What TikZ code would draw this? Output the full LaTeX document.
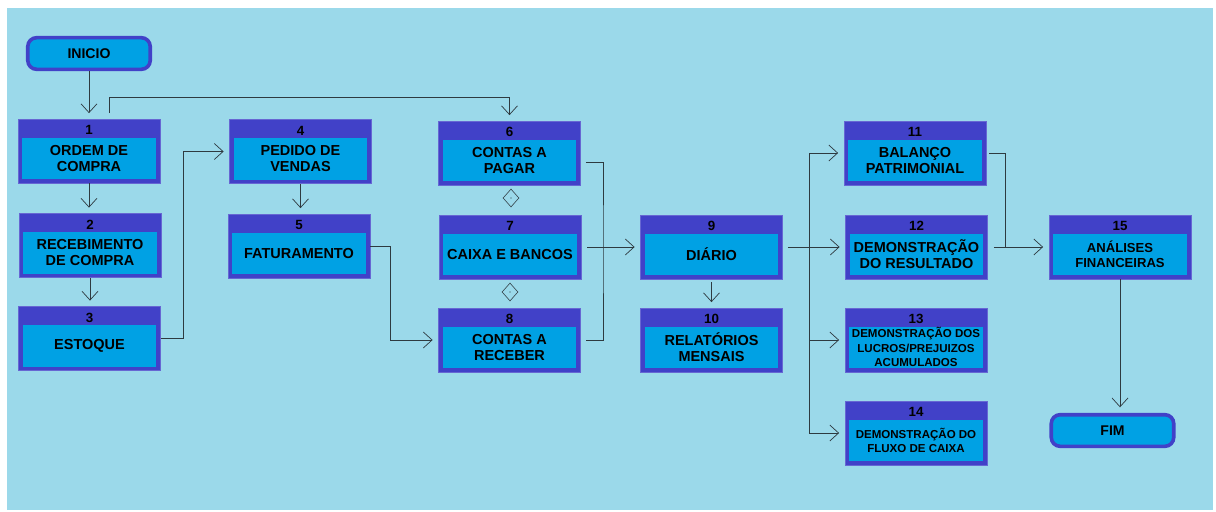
\documentclass[tikz,border=0pt]{standalone}
\usepackage{fontspec}
\setmainfont{Liberation Sans}
\usetikzlibrary{positioning,arrows.meta,shapes.geometric,calc}
\definecolor{fundo}{HTML}{9BD9EA}
\definecolor{azulesc}{HTML}{4141C8}
\definecolor{azulcla}{HTML}{00A1E4}
\definecolor{linha}{HTML}{2E3A40}

\begin{document}
\begin{tikzpicture}[x=0.025cm, y=-0.025cm,
    bloco/.style={fill=azulesc, draw=azulesc!80!white, line width=0.4pt,
                  minimum width=3.55cm, minimum height=1.6cm, inner sep=0pt,
                  label={[font=\fontsize{9.5}{10}\selectfont\bfseries,
                          anchor=north, inner sep=0pt, yshift=-0.16cm]north:#1}},
    texto/.style={fill=azulcla, minimum width=3.33cm, minimum height=1.03cm,
                  inner sep=0pt, align=center, anchor=south, yshift=0.1cm,
                  font=\fontsize{10.3}{11.5}\selectfont\bfseries},
    menor/.style={font=\fontsize{8.2}{10.3}\selectfont\bfseries},
    terminal/.style={draw=azulesc, fill=azulcla, line width=0.09cm,
                     rounded corners=0.22cm, minimum width=3.06cm,
                     minimum height=0.79cm,
                     font=\fontsize{10}{12}\selectfont\bfseries},
    seta/.style={draw=linha, line width=0.6pt,
                 -{Straight Barb[length=2.2mm,width=4mm,line width=0.5pt]},
                 shorten >=0.14cm},
    liga/.style={draw=linha, line width=0.6pt},
    losango/.style={diamond, draw=linha, line width=0.4pt, inner sep=0pt,
                    minimum width=0.4cm, minimum height=0.45cm},
]
\useasboundingbox (0,0) rectangle (1216,512);
\fill[fundo] (7,8) rectangle (1213,510);

% inicio e fim
\node[terminal] (inicio) at (89,53.5) {INICIO};
\node[terminal] (fim) at (1112.5,430.5) {FIM};

% compras
\node[bloco=1] (ordem) at (89,151) {};
\node[texto] (ordem-t) at (ordem.south) {ORDEM DE\\COMPRA};
\node[bloco=2] (receb) at (90,245.5) {};
\node[texto] (receb-t) at (receb.south) {RECEBIMENTO\\DE COMPRA};
\node[bloco=3] (estoque) at (89.5,338.5) {};
\node[texto] (estoque-t) at (estoque.south) {ESTOQUE};

% vendas
\node[bloco=4] (pedido) at (300.5,151.5) {};
\node[texto] (pedido-t) at (pedido.south) {PEDIDO DE\\VENDAS};
\node[bloco=5] (fatur) at (299,246) {};
\node[texto] (fatur-t) at (fatur.south) {FATURAMENTO};

% financeiro
\node[bloco=6] (pagar) at (509.5,153) {};
\node[texto] (pagar-t) at (pagar.south) {CONTAS A\\PAGAR};
\node[bloco=7] (bancos) at (510,247) {};
\node[texto] (bancos-t) at (bancos.south) {CAIXA E BANCOS};
\node[bloco=8] (receber) at (509.5,340) {};
\node[texto] (receber-t) at (receber.south) {CONTAS A\\RECEBER};
\node[losango] (d1) at (511,198) {};
\node[losango] (d2) at (510,292) {};
\fill[linha] (d1) circle (0.4pt);
\fill[linha] (d2) circle (0.4pt);

% contabil
\node[bloco=9] (diario) at (711.5,247) {};
\node[texto] (diario-t) at (diario.south) {DIÁRIO};
\node[bloco=10] (relat) at (711.5,340) {};
\node[texto] (relat-t) at (relat.south) {RELATÓRIOS\\MENSAIS};

% demonstracoes
\node[bloco=11] (balanco) at (915,153) {};
\node[texto] (balanco-t) at (balanco.south) {BALANÇO\\PATRIMONIAL};
\node[bloco=12] (dre) at (916.5,247) {};
\node[texto] (dre-t) at (dre.south) {DEMONSTRAÇÃO\\DO RESULTADO};
\node[bloco=13] (dlpa) at (916,340) {};
\node[texto, menor] (dlpa-t) at (dlpa.south)
    {DEMONSTRAÇÃO DOS\\LUCROS/PREJUIZOS\\ACUMULADOS};
\node[bloco=14] (dfc) at (916,433) {};
\node[texto, menor] (dfc-t) at (dfc.south) {DEMONSTRAÇÃO DO\\FLUXO DE CAIXA};
\node[bloco=15] (analise) at (1120,247) {};
\node[texto, font=\fontsize{9.3}{11}\selectfont\bfseries] (analise-t)
    at (analise.south) {ANÁLISES\\FINANCEIRAS};

% ligacoes
\coordinate (c1) at (109,113);
\coordinate (j1) at (603,247);
\coordinate (j2) at (809,247);
\coordinate (j3) at (1005,247);

\draw[seta] (inicio) -- (ordem);
\draw[seta] (c1) -- ++(0,-16) -| (pagar.north);
\draw[seta] (ordem.south) -- (ordem.south |- receb.north);
\draw[seta] (receb.south) -- (receb.south |- estoque.north);
\draw[seta] (estoque.east) -- ++(23,0) |- (pedido.west);
\draw[seta] (pedido.south) -- (pedido.south |- fatur.north);
\draw[seta] (fatur.east) -- ++(20,0) |- (receber.west);
\draw[liga] ([shift={(0.125cm,-0.225cm)}]pagar.east) -| (j1)
    |- ([xshift=0.125cm]receber.east);
\draw[seta] ([xshift=0.15cm]bancos.east) -- (diario.west);
\draw[seta, shorten <=0.075cm] (diario.south) -- (diario.south |- relat.north);
\draw[seta] ([xshift=0.125cm]diario.east) -- (dre.west);
\foreach \b in {balanco,dlpa,dfc}
    \draw[seta] (j2) |- (\b.west);
\draw[liga] ([xshift=0.075cm]balanco.east) -| (j3);
\draw[seta] ([xshift=0.15cm]dre.east) -- (analise.west);
\draw[seta] (analise.south) -- (analise.south |- fim.north);
\end{tikzpicture}
\end{document}
